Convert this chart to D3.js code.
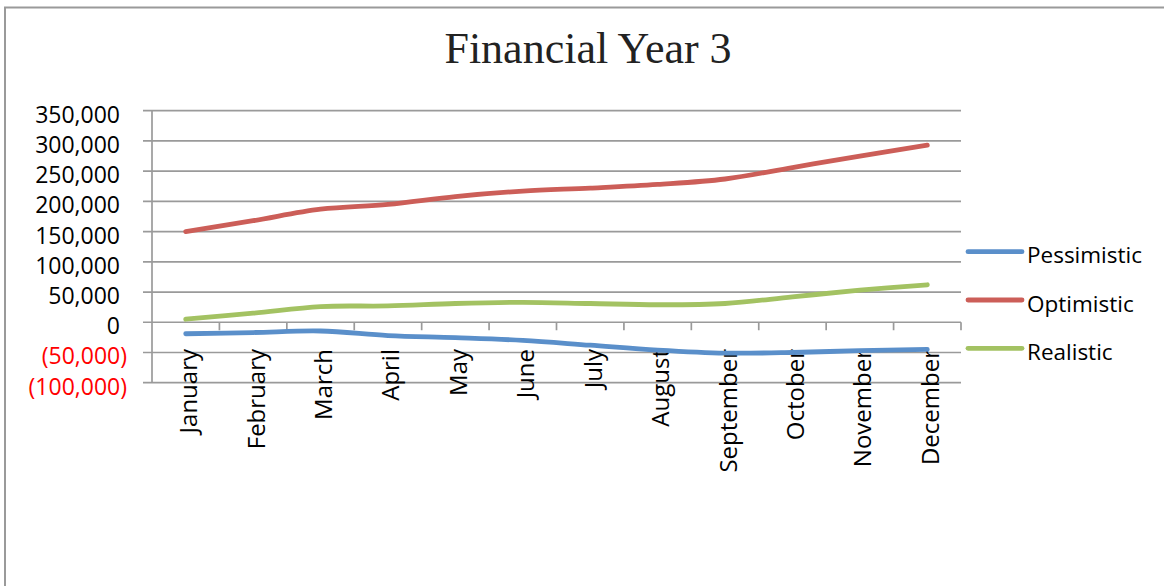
<!DOCTYPE html>
<html>
<head>
<meta charset="utf-8">
<script src="https://cdn.jsdelivr.net/npm/d3@7"></script>
<style>
  body { margin: 0; background: #fff; }
  text { font-family: "Open Sans", Lato, sans-serif; }
</style>
</head>
<body>
<script>
// Données du graphique
var months = ["January", "February", "March", "April", "May", "June",
              "July", "August", "September", "October", "November", "December"];
var pessimistic = [-19000, -17000, -14500, -22000, -25500, -30000,
                   -38000, -46000, -51000, -50000, -47000, -45000];
var optimistic = [150000, 168000, 187000, 195000, 208000, 217000,
                  222000, 228000, 237000, 256000, 275000, 293000];
var realistic = [5000, 15000, 26000, 27000, 31000, 33000,
                 31000, 29000, 31000, 42000, 53000, 62000];
var seriesNames = ["Pessimistic", "Optimistic", "Realistic"];
var yTicks = [-100000, -50000, 0, 50000, 100000, 150000, 200000, 250000, 300000, 350000];
var title = "Financial Year 3";

var colors = ["#5A8FCA", "#CC5E58", "#A3C262"];
var gridC = "#9a9a9a";

var svg = d3.select("body").append("svg")
    .attr("width", 1164)
    .attr("height", 586);

// cadre du graphique
svg.append("rect")
    .attr("x", 5).attr("y", 7.5)
    .attr("width", 1200).attr("height", 700)
    .attr("fill", "none")
    .attr("stroke", gridC)
    .attr("stroke-width", 2);

// titre
svg.append("text")
    .attr("x", 588).attr("y", 63)
    .attr("text-anchor", "middle")
    .style("font-family", "'Liberation Serif', 'DejaVu Serif', serif")
    .style("font-size", "44px")
    .attr("fill", "#222")
    .text(title);

var x = d3.scaleBand().domain(months).range([152, 961]).padding(0);
var y = d3.scaleLinear().domain([-100000, 350000]).range([382.7, 110.7]);
var cx = function(m) { return x(m) + x.bandwidth() / 2; };

// lignes de la grille + graduations à gauche
svg.append("g").selectAll("line")
    .data(yTicks)
    .join("line")
    .attr("x1", 143).attr("x2", 961)
    .attr("y1", d => y(d)).attr("y2", d => y(d))
    .attr("stroke", gridC)
    .attr("stroke-width", 1.7);

// axe vertical
svg.append("line")
    .attr("x1", 152).attr("x2", 152)
    .attr("y1", y(350000)).attr("y2", y(-100000))
    .attr("stroke", gridC).attr("stroke-width", 1.7);

// graduations de l'axe horizontal (à zéro)
var bounds = months.map(m => x(m)).concat([961]).slice(1);
svg.append("g").selectAll("line")
    .data(bounds)
    .join("line")
    .attr("x1", d => d).attr("x2", d => d)
    .attr("y1", y(0)).attr("y2", y(0) + 8)
    .attr("stroke", gridC).attr("stroke-width", 1.7);

// étiquettes de l'axe y
var fmt = d3.format(",");
svg.append("g").selectAll("text")
    .data(yTicks)
    .join("text")
    .attr("x", d => d < 0 ? 127 : 120)
    .attr("y", d => y(d) + 12)
    .attr("text-anchor", "end")
    .style("font-size", "23px")
    .attr("fill", d => d < 0 ? "#ff0000" : "#000")
    .text(d => d < 0 ? "(" + fmt(-d) + ")" : fmt(d));

// étiquettes des mois
svg.append("g").selectAll("text")
    .data(months)
    .join("text")
    .attr("transform", d => `translate(${cx(d) + 11.5},349) rotate(-90)`)
    .attr("text-anchor", "end")
    .style("font-size", "24px")
    .attr("fill", "#000")
    .text(d => d);

// séries
var allSeries = [pessimistic, optimistic, realistic];
var line = d3.line()
    .x((d, i) => cx(months[i]))
    .y(d => y(d))
    .curve(d3.curveCatmullRom.alpha(0.5));

allSeries.forEach(function(s, i) {
    svg.append("path")
        .datum(s)
        .attr("d", line)
        .attr("fill", "none")
        .attr("stroke", colors[i])
        .attr("stroke-width", 4.8)
        .attr("stroke-linecap", "round")
        .attr("stroke-linejoin", "round");
});

// légende
var leg = svg.append("g").selectAll("g")
    .data(seriesNames)
    .join("g")
    .attr("transform", (d, i) => `translate(968,${251.7 + i * 48.3})`);
leg.append("line")
    .attr("x1", 0).attr("x2", 54)
    .attr("stroke", (d, i) => colors[i])
    .attr("stroke-width", 4.8)
    .attr("stroke-linecap", "round");
leg.append("text")
    .attr("x", 59).attr("y", 11.5)
    .style("font-size", "22.5px")
    .attr("fill", "#000")
    .text(d => d);
</script>
</body>
</html>
